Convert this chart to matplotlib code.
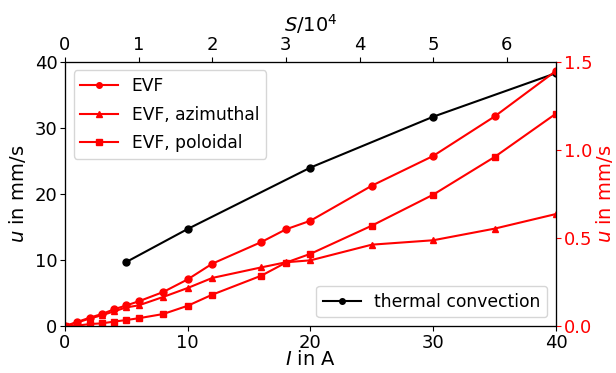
## Flow velocity vs. current: EVF and thermal convection

import numpy as np
import matplotlib.pyplot as plt

## Data
I_thermal = [5, 10, 20, 30, 40]
u_thermal = [9.7, 14.7, 24.0, 31.7, 38.3]

I_evf = [0, 1, 2, 3, 4, 5, 6, 8, 10, 12, 16, 18, 20, 25, 30, 35, 40]
u_evf = [0.0, 0.023, 0.047, 0.068, 0.095, 0.117, 0.14, 0.193, 0.265, 0.354,
         0.477, 0.549, 0.598, 0.797, 0.966, 1.19, 1.449]
u_azi = [0.0, 0.02, 0.042, 0.061, 0.083, 0.106, 0.117, 0.165, 0.216, 0.273,
         0.333, 0.362, 0.373, 0.462, 0.487, 0.553, 0.636]
u_pol = [0.0, 0.002, 0.011, 0.015, 0.025, 0.034, 0.044, 0.068, 0.115, 0.178,
         0.286, 0.36, 0.41, 0.57, 0.746, 0.96, 1.206]

S_ticks = [0, 1, 2, 3, 4, 5, 6]

fs = 13
lfs = 14
fig = plt.figure(figsize=(6.16, 3.73), dpi=100)
ax1 = fig.add_axes([0.1055, 0.126, 0.797, 0.708])

## thermal convection on the left axis
ax1.plot(I_thermal, u_thermal, 'k-', marker='o', ms=5, lw=1.5, label='thermal convection')
ax1.set_xlim(0, 40)
ax1.set_ylim(0, 40)
ax1.set_xticks([0, 10, 20, 30, 40])
ax1.set_yticks([0, 10, 20, 30, 40])
ax1.set_xlabel('$I$ in A', fontsize=lfs, labelpad=-1)
ax1.set_ylabel('$u$ in mm/s', fontsize=lfs, labelpad=5)
ax1.tick_params(labelsize=fs, pad=2)
ax1.legend(loc='lower right', fontsize=12.3, handlelength=2.2, markerscale=0.8)

## EVF on the right axis
ax2 = ax1.twinx()
ax2.plot(I_evf, u_evf, 'r-', marker='o', ms=5, lw=1.5, label='EVF')
ax2.plot(I_evf, u_azi, 'r-', marker='^', ms=5, lw=1.5, label='EVF, azimuthal')
ax2.plot(I_evf, u_pol, 'r-', marker='s', ms=5, lw=1.5, label='EVF, poloidal')
ax2.set_ylim(0, 1.5)
ax2.set_yticks([0.0, 0.5, 1.0, 1.5])
ax2.set_ylabel('$u$ in mm/s', fontsize=lfs, color='red', labelpad=1)
ax2.tick_params(axis='y', colors='red', labelsize=fs, pad=2)
ax2.legend(loc='upper left', fontsize=12.3, handlelength=2.2, labelspacing=0.6,
           markerscale=0.8)

## top axis: S/10^4
ax3 = ax1.twiny()
ax3.set_xlim(0, 40 / 6)
ax3.set_xticks(S_ticks)
ax3.tick_params(labelsize=fs, pad=2)
ax3.set_xlabel('$S/10^4$', fontsize=lfs, labelpad=3)

plt.savefig('out.png', dpi=100)
